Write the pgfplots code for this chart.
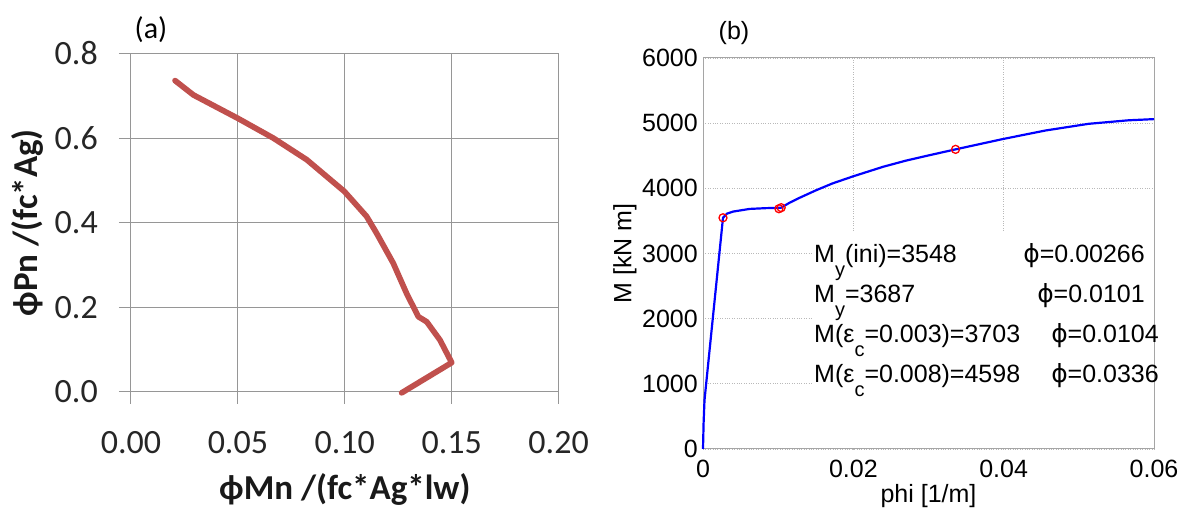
\documentclass[border=0pt]{standalone}
\usepackage{fontspec}
\setmainfont{Liberation Sans}
\newfontfamily\carlito{Carlito}
\newfontfamily\dejavu{DejaVu Sans}
\usepackage{pgfplots}
\pgfplotsset{compat=1.18}
\definecolor{exred}{RGB}{192,80,77}
\definecolor{exgrid}{RGB}{150,150,150}
\definecolor{mgrid}{RGB}{185,185,185}
\definecolor{mbox}{RGB}{165,165,165}
\begin{document}
\begin{tikzpicture}[x=1pt,y=1pt]
\path[use as bounding box] (0,0) rectangle (1179,510);
\begin{axis}[
  at={(131pt,118pt)}, anchor=south west, scale only axis,
  width=427.6pt, height=338.5pt,
  xmin=0, xmax=0.2, ymin=0, ymax=0.8,
  xtick={0,0.05,0.1,0.15,0.2}, ytick={0,0.2,0.4,0.6,0.8},
  grid=major, grid style={exgrid, line width=1pt},
  axis line style={exgrid, line width=1pt},
  tick style={exgrid, line width=1pt},
  tick align=outside, major tick length=12pt,
  xtick pos=bottom, ytick pos=left,
  scaled ticks=false,
  x tick label style={/pgf/number format/fixed, /pgf/number format/fixed zerofill, /pgf/number format/precision=2},
  y tick label style={/pgf/number format/fixed, /pgf/number format/fixed zerofill, /pgf/number format/precision=1},
  /pgf/number format/assume math mode=true,
  tick label style={font=\carlito\fontsize{34}{34}\selectfont, text=black!85, inner sep=0pt},
  xticklabel style={anchor=north, yshift=-27pt},
  yticklabel style={anchor=east, xshift=-21pt},
  xlabel={ϕMn /(fc*Ag*lw)}, ylabel={ϕPn /(fc*Ag)},
  label style={font=\carlito\bfseries\fontsize{35}{35}\selectfont, text=black!90, inner sep=0pt},
  xlabel style={at={(axis description cs:0.5,-0.289)}, anchor=center},
  ylabel style={at={(axis description cs:-0.241,0.5)}, anchor=center},
  clip=false,
]
\addplot[exred, line width=5.7pt, line join=round, line cap=round] table {
x y
0.0206 0.736
0.0292 0.702
0.0499 0.647
0.0666 0.600
0.0822 0.549
0.0998 0.474
0.1102 0.415
0.1149 0.375
0.1227 0.304
0.1289 0.233
0.1344 0.178
0.1383 0.166
0.1445 0.123
0.1500 0.0694
0.1266 -0.002
};
\end{axis}
\begin{axis}[
  at={(703pt,61pt)}, anchor=south west, scale only axis,
  width=451pt, height=391pt,
  xmin=0, xmax=0.06, ymin=0, ymax=6000,
  xtick={0,0.02,0.04,0.06}, ytick={0,1000,2000,3000,4000,5000,6000},
  grid=major, grid style={mgrid, dotted, line width=0.8pt},
  axis line style={mbox, line width=1pt},
  major tick length=0pt,
  scaled ticks=false,
  x tick label style={/pgf/number format/fixed},
  /pgf/number format/1000 sep={},
  /pgf/number format/assume math mode=true,
  tick label style={font=\fontsize{25}{25}\selectfont, inner sep=0pt},
  xticklabel style={anchor=north, yshift=-11pt},
  yticklabel style={anchor=east, xshift=-5pt},
  xlabel={phi [1/m]}, ylabel={M [kN m]},
  label style={font=\fontsize{25}{25}\selectfont, inner sep=0pt},
  xlabel style={at={(axis description cs:0.5,-0.120)}, anchor=center},
  ylabel style={at={(axis description cs:-0.173,0.5)}, anchor=center},
  clip=false,
]
\fill[white] (axis cs:0.01463,8) rectangle (axis cs:0.0599,3330);
\addplot[blue, line width=2.2pt, line join=round] table {
x y
0 0
0.00008 400
0.0002 750
0.00266 3548
0.0032 3612
0.0040 3643
0.0062 3684
0.0084 3696
0.0101 3700
0.0104 3703
0.0115 3778
0.0128 3852
0.0150 3968
0.0172 4074
0.0200 4185
0.0240 4332
0.0270 4425
0.0300 4505
0.0336 4598
0.0398 4754
0.0456 4888
0.0513 4990
0.0566 5044
0.0600 5062
};
\addplot[only marks, mark=o, red, mark size=4pt, line width=1.3pt] table {
x y
0.00266 3548
0.0101 3687
0.0104 3703
0.0336 4598
};
\end{axis}
\node[font=\carlito\fontsize{30}{30}\selectfont] at (151,480) {(a)};
\node[font=\fontsize{25}{25}\selectfont] at (734,477) {(b)};
\begin{scope}[every node/.style={font=\fontsize{25}{25}\selectfont, inner sep=0pt}]
\node[anchor=base west] at (814,247) {M\raisebox{-14pt}{\fontsize{20}{20}\selectfont y}(ini)=3548};
\node[anchor=base west] at (814,207) {M\raisebox{-14pt}{\fontsize{20}{20}\selectfont y}=3687};
\node[anchor=base west] at (814,167) {M(ε\raisebox{-14pt}{\fontsize{20}{20}\selectfont c}=0.003)=3703};
\node[anchor=base west] at (814,127) {M(ε\raisebox{-14pt}{\fontsize{20}{20}\selectfont c}=0.008)=4598};
\node[anchor=base east] at (1145,247) {{\dejavu ϕ}=0.00266};
\node[anchor=base east] at (1145,207) {{\dejavu ϕ}=0.0101};
\node[anchor=base east] at (1159,167) {{\dejavu ϕ}=0.0104};
\node[anchor=base east] at (1159,127) {{\dejavu ϕ}=0.0336};
\end{scope}
\end{tikzpicture}
\end{document}
